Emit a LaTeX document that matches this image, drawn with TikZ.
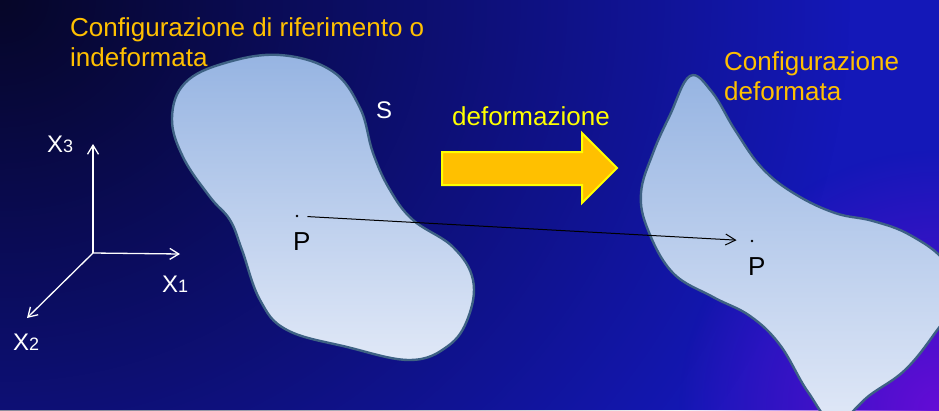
\documentclass[tikz,border=0pt]{standalone}
\usepackage{fontspec}
\setmainfont{Liberation Sans}
\usepackage{tikz}
\usetikzlibrary{arrows.meta,fadings}
\usepackage{xcolor}
\definecolor{bgdark}{RGB}{6,6,40}
\definecolor{bgblue}{RGB}{20,24,184}
\definecolor{bgviolet}{RGB}{100,12,214}
\definecolor{titlegold}{RGB}{255,192,0}
\definecolor{labelyellow}{RGB}{255,255,0}
\definecolor{blobedge}{RGB}{62,98,132}
\definecolor{blobtop}{RGB}{150,180,226}
\definecolor{blobbottom}{RGB}{224,232,247}
\tikzfading[name=cornerfade, inner color=transparent!0, outer color=transparent!100]

\begin{document}
\begin{tikzpicture}[x=1pt, y=-1pt,
    title/.style={text=titlegold, font=\fontsize{26}{30}\selectfont, anchor=base west, inner sep=0pt},
    axisline/.style={white, line width=1.3pt, -{Straight Barb[length=9pt, width=11pt]}},
    axislabel/.style={text=white, font=\fontsize{24}{28}\selectfont, anchor=base west, inner sep=0pt},
    blob/.style={draw=blobedge, line width=2.4pt, top color=blobtop, bottom color=blobbottom},
    dot/.style={circle, fill=black, inner sep=0pt, minimum size=2.6pt},
    plabel/.style={text=black, font=\fontsize{26}{30}\selectfont, anchor=base west, inner sep=0pt},
    track/.style={black, line width=1pt, -{Straight Barb[length=10pt, width=11pt]}},
    bigarrow/.style={draw=labelyellow, line width=2pt, fill=titlegold}
]
    \useasboundingbox (0,0) rectangle (939,410);
    \begin{scope}
    \clip (0,0) rectangle (939,410);
    \fill[bgblue] (0,0) rectangle (939,410);
    \fill[bgdark, path fading=cornerfade] (0,0) ellipse (850 and 760);
    \fill[bgviolet, path fading=cornerfade] (939,410) circle (260);
    \draw[blob] plot[smooth cycle, tension=0.65] coordinates {
        (172,118) (185,83) (225,63) (280,55) (332,71) (360,108) (373,153) (390,190)
        (413,220) (453,247) (473,280) (468,318) (448,346) (410,360) (347,347)
        (287,330) (260,300) (242,250) (230,220) (210,197) (183,157)};
    \draw[blob] plot[smooth cycle, tension=0.65] coordinates {
        (690,76) (712,92) (735,130) (762,168) (795,194) (835,213) (873,221)
        (910,235) (945,262) (955,300) (935,333) (905,370) (870,395) (835,422)
        (808,392) (780,345) (750,316) (713,297) (673,273) (648,230) (641,193)
        (653,153) (670,115)};
    \end{scope}

    \node[title] (reftitle) at (70,36) {Configurazione di riferimento o};
    \node[title] (reftitle2) at (70,66) {indeformata};
    \node[title] (deftitle) at (724,70) {Configurazione};
    \node[title] (deftitle2) at (724,100) {deformata};
    \node[text=white, font=\fontsize{24}{28}\selectfont, anchor=base west, inner sep=0pt] (surf) at (376,118) {S};

    \coordinate (origin) at (93,253);
    \coordinate (x1end) at (180,254);
    \coordinate (x2end) at (27,318);
    \coordinate (x3end) at (93,144);
    \draw[axisline] (origin) -- (x1end);
    \draw[axisline] (origin) -- (x2end);
    \draw[axisline] (origin) -- (x3end);
    \node[axislabel] (x1lab) at (162,292) {X{\fontsize{18}{20}\selectfont 1}};
    \node[axislabel] (x2lab) at (13,350) {X{\fontsize{18}{20}\selectfont 2}};
    \node[axislabel] (x3lab) at (47,152) {X{\fontsize{18}{20}\selectfont 3}};

    \node[text=labelyellow, font=\fontsize{26}{30}\selectfont, anchor=base west, inner sep=0pt] (deflab) at (452,125) {deformazione};
    \draw[bigarrow] (442,152) -- (582,152) -- (582,133) -- (617,168) -- (582,203) -- (582,185) -- (442,185) -- cycle;

    \node[dot] (pref) at (297,216) {};
    \node[dot] (pdef) at (752,241) {};
    \node[plabel] (preflab) at (293,250) {P};
    \node[plabel] (pdeflab) at (748,275) {P};
    \draw[track, shorten <=9pt, shorten >=14pt] (pref) -- (pdef);
\end{tikzpicture}
\end{document}
